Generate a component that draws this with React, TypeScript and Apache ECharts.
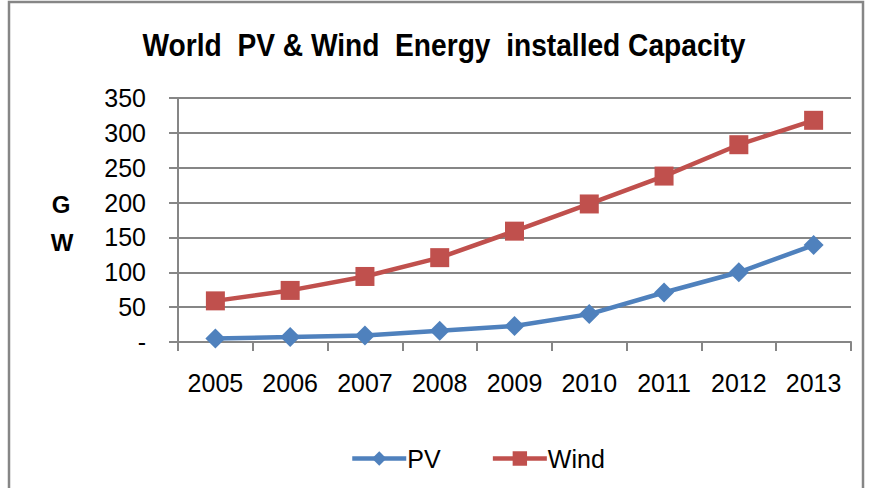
import React, { useEffect, useRef } from "react";
import * as echarts from "echarts";

const years = ["2005", "2006", "2007", "2008", "2009", "2010", "2011", "2012", "2013"];
const pvValues = [5.1, 7, 9.4, 16, 23, 40, 71, 100, 139];
const windValues = [59, 74, 94, 121, 159, 198, 238, 283, 318];
const titleText = "World  PV & Wind  Energy  installed Capacity";

const FONT = "'Liberation Sans', Arial, sans-serif";
const GRAY = "#868686";

export default function App() {
  const ref = useRef<HTMLDivElement>(null);
  useEffect(() => {
    const chart = echarts.init(ref.current!, null, { renderer: "svg" });
    chart.setOption({
      animation: false,
      backgroundColor: "#ffffff",
      graphic: [
        {
          type: "rect",
          shape: { x: 9, y: 2, width: 854, height: 500 },
          style: { fill: "none", stroke: GRAY, lineWidth: 2.5 },
          silent: true,
        },
        {
          type: "text",
          x: 444,
          y: 45,
          scaleX: 0.88,
          style: {
            text: titleText,
            fontFamily: FONT,
            fontWeight: "bold",
            fontSize: 32,
            fill: "#000",
            align: "center",
            verticalAlign: "middle",
          },
        },
        {
          type: "text",
          x: 61,
          y: 204,
          style: {
            text: "G",
            fontFamily: FONT,
            fontWeight: "bold",
            fontSize: 24,
            fill: "#000",
            align: "center",
            verticalAlign: "middle",
          },
        },
        {
          type: "text",
          x: 62,
          y: 242,
          style: {
            text: "W",
            fontFamily: FONT,
            fontWeight: "bold",
            fontSize: 24,
            fill: "#000",
            align: "center",
            verticalAlign: "middle",
          },
        },
      ],
      legend: {
        top: 441,
        left: 345,
        itemWidth: 54,
        itemHeight: 18,
        itemGap: 50,
        lineStyle: { width: 4.5 },
        textStyle: { fontFamily: FONT, fontSize: 25, color: "#000", padding: [0, 0, 0, -4] },
        data: ["PV", "Wind"],
      },
      grid: { left: 178, right: 19, top: 98, bottom: 146, containLabel: false },
      xAxis: {
        type: "category",
        data: years,
        boundaryGap: true,
        axisLine: { lineStyle: { color: GRAY, width: 2 } },
        axisTick: { show: true, alignWithLabel: false, length: 9, lineStyle: { color: GRAY, width: 2 } },
        axisLabel: { fontFamily: FONT, fontSize: 25, color: "#000", margin: 28 },
      },
      yAxis: {
        type: "value",
        min: 0,
        max: 350,
        interval: 50,
        axisLine: { show: true, lineStyle: { color: GRAY, width: 2 } },
        axisTick: { show: true, length: 9, lineStyle: { color: GRAY, width: 2 } },
        splitLine: { lineStyle: { color: GRAY, width: 2 } },
        axisLabel: {
          fontFamily: FONT,
          fontSize: 25,
          color: "#000",
          margin: 32,
          formatter: (v: number) => (v === 0 ? "-" : String(v)),
        },
      },
      series: [
        {
          name: "PV",
          type: "line",
          data: pvValues,
          symbol: "diamond",
          symbolSize: 20,
          color: "#4F81BD",
          lineStyle: { width: 4.5, color: "#4F81BD" },
          itemStyle: { color: "#4F81BD" },
        },
        {
          name: "Wind",
          type: "line",
          data: windValues,
          symbol: "rect",
          symbolSize: 19,
          color: "#C0504D",
          lineStyle: { width: 4.5, color: "#C0504D" },
          itemStyle: { color: "#C0504D" },
        },
      ],
    });
    return () => chart.dispose();
  }, []);
  return <div ref={ref} style={{ width: 870, height: 488, position: "absolute", left: 0, top: 0 }} />;
}
